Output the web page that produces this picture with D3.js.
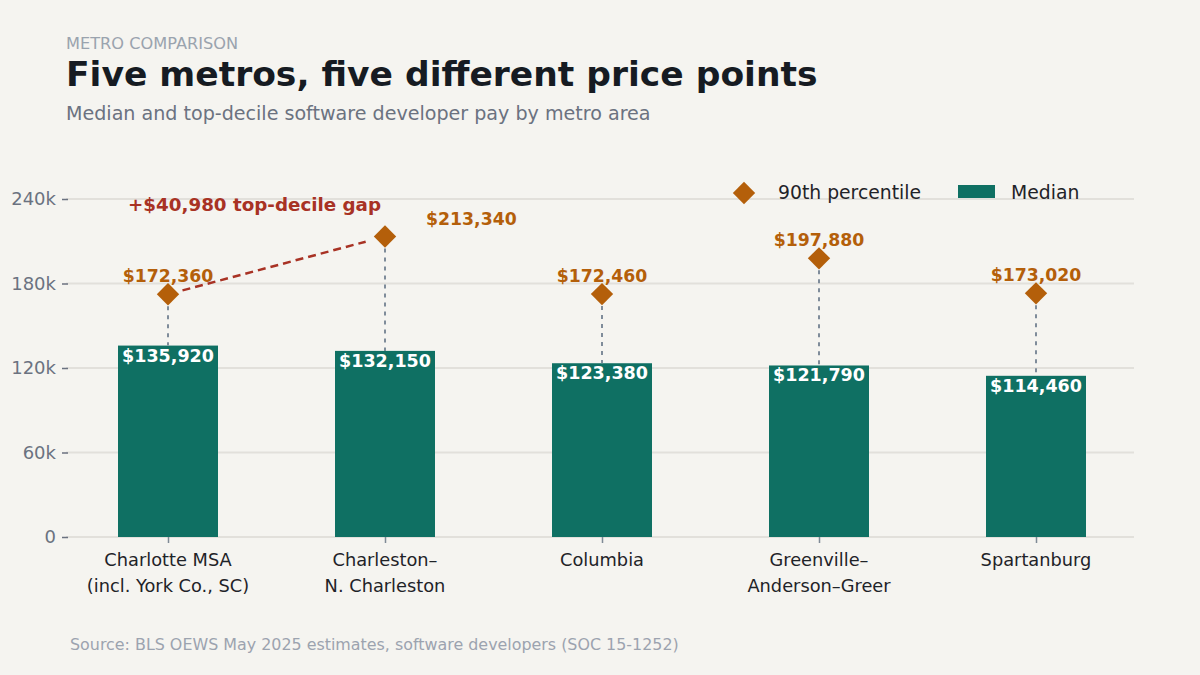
<!DOCTYPE html>
<html>
<head>
<meta charset="utf-8">
<script src="https://cdn.jsdelivr.net/npm/d3@7"></script>
<style>
  body { margin: 0; background: #f5f4f0; }
  svg text { font-family: "DejaVu Sans", sans-serif; }
</style>
</head>
<body>
<div id="container"></div>
<script>
/* DATA */
const metros = ["Charlotte MSA|(incl. York Co., SC)", "Charleston–|N. Charleston", "Columbia", "Greenville–|Anderson–Greer", "Spartanburg"];
const medianPay = [135920, 132150, 123380, 121790, 114460];
const p90Pay = [172360, 213340, 172460, 197880, 173020];
const yTicks = [0, 60000, 120000, 180000, 240000];
const yTickLabels = ["0", "60k", "120k", "180k", "240k"];
const gapLabel = "+$40,980 top-decile gap";

/* CONSTANTS */
const width = 1200, height = 675;
const teal = "#0f7063", orange = "#b45f0a", red = "#a83224";
const fmt = d3.format("$,");

const rows = metros.map((m, i) => ({ metro: m, median: medianPay[i], p90: p90Pay[i] }));

const svg = d3.select("#container").append("svg")
  .attr("width", width)
  .attr("height", height)
  .style("background-color", "#f5f4f0");

/* SCALES */
const xScale = d3.scalePoint()
  .domain(metros)
  .range([168, 1036]);

const yScale = d3.scaleLinear()
  .domain([0, 240000])
  .range([537, 199]);

const barW = 100;

// gridlines
svg.append("g")
  .selectAll("line")
  .data(yTicks)
  .join("line")
  .attr("x1", 66).attr("x2", 1134)
  .attr("y1", d => yScale(d)).attr("y2", d => yScale(d))
  .attr("stroke", "#e2e0db")
  .attr("stroke-width", 2);

// y axis
const yAxis = d3.axisLeft(yScale)
  .tickValues(yTicks)
  .tickFormat((d, i) => yTickLabels[i])
  .tickSize(6)
  .tickPadding(6);
const yG = svg.append("g").attr("transform", "translate(68,0)").call(yAxis);
yG.select(".domain").remove();
yG.selectAll(".tick line").attr("stroke", "#6b7280").attr("stroke-width", 1.5);
yG.selectAll(".tick text").attr("fill", "#6b7280").style("font-size", "18px").style("font-family", "DejaVu Sans");

// x axis
const xAxis = d3.axisBottom(xScale).tickSize(6).tickPadding(8).tickFormat("");
const xG = svg.append("g").attr("transform", "translate(0,537)").call(xAxis);
xG.select(".domain").remove();
xG.selectAll(".tick line").attr("stroke", "#7f8a96").attr("stroke-width", 1.5);

svg.append("g")
  .selectAll("text")
  .data(metros)
  .join("text")
  .attr("x", d => xScale(d))
  .attr("y", 566)
  .attr("text-anchor", "middle")
  .attr("fill", "#1f2328")
  .style("font-size", "17.8px")
  .each(function(d) {
    const parts = d.split("|");
    d3.select(this).selectAll("tspan")
      .data(parts)
      .join("tspan")
      .attr("x", xScale(d))
      .attr("dy", (p, i) => i === 0 ? 0 : 26)
      .text(p => p);
  });

// bars
svg.append("g")
  .selectAll("rect")
  .data(rows)
  .join("rect")
  .attr("x", d => xScale(d.metro) - barW / 2)
  .attr("width", barW)
  .attr("y", d => yScale(d.median))
  .attr("height", d => yScale(0) - yScale(d.median))
  .attr("fill", teal);

// median labels
svg.append("g")
  .selectAll("text")
  .data(rows)
  .join("text")
  .attr("x", d => xScale(d.metro))
  .attr("y", d => yScale(d.median) + 16)
  .attr("text-anchor", "middle")
  .attr("fill", "white")
  .style("font-size", "17.5px")
  .style("font-weight", "bold")
  .text(d => fmt(d.median));

// dotted stems
svg.append("g")
  .selectAll("line")
  .data(rows)
  .join("line")
  .attr("x1", d => xScale(d.metro)).attr("x2", d => xScale(d.metro))
  .attr("y1", d => yScale(d.p90) + 12)
  .attr("y2", d => yScale(d.median))
  .attr("stroke", "#7f8c9a")
  .attr("stroke-width", 2)
  .attr("stroke-dasharray", "4,5");

// annotation line
const a = rows[0], b = rows[1];
const ax = xScale(a.metro), ay = yScale(a.p90), bx = xScale(b.metro), by = yScale(b.p90);
const len = Math.hypot(bx - ax, by - ay);
const ux = (bx - ax) / len, uy = (by - ay) / len;
svg.append("line")
  .attr("x1", ax + ux * 15).attr("y1", ay + uy * 15)
  .attr("x2", bx - ux * 20).attr("y2", by - uy * 20)
  .attr("stroke", red)
  .attr("stroke-width", 2.5)
  .attr("stroke-dasharray", "8,5");

svg.append("text")
  .attr("x", ax - 40)
  .attr("y", 211)
  .attr("fill", red)
  .style("font-size", "18.3px")
  .style("font-weight", "bold")
  .text(gapLabel);

// diamonds
const diamond = d3.symbol().type(d3.symbolSquare).size(250);
svg.append("g")
  .selectAll("path")
  .data(rows)
  .join("path")
  .attr("d", diamond)
  .attr("transform", d => `translate(${xScale(d.metro)},${yScale(d.p90)}) rotate(45)`)
  .attr("fill", orange);

// p90 labels
svg.append("g")
  .selectAll("text")
  .data(rows)
  .join("text")
  .attr("x", (d, i) => i === 1 ? xScale(d.metro) + 41 : xScale(d.metro))
  .attr("y", d => yScale(d.p90) - 12)
  .attr("text-anchor", (d, i) => i === 1 ? "start" : "middle")
  .attr("fill", orange)
  .style("font-size", "17.3px")
  .style("font-weight", "bold")
  .text(d => fmt(d.p90));

// legend
const leg = svg.append("g");
leg.append("path").attr("d", diamond).attr("transform", "translate(744,193) rotate(45)").attr("fill", orange);
leg.append("text").attr("x", 778).attr("y", 199).attr("fill", "#1f2328").style("font-size", "18.8px").text("90th percentile");
leg.append("rect").attr("x", 958).attr("y", 185).attr("width", 37).attr("height", 13).attr("fill", teal);
leg.append("text").attr("x", 1011).attr("y", 199).attr("fill", "#1f2328").style("font-size", "18.8px").text("Median");

// titles
svg.append("text").attr("x", 66).attr("y", 49).attr("fill", "#9aa3ae").style("font-size", "16.2px").text("METRO COMPARISON");
svg.append("text").attr("x", 66).attr("y", 86).attr("fill", "#161b22").style("font-size", "34.5px").style("font-weight", "bold").text("Five metros, five different price points");
svg.append("text").attr("x", 66).attr("y", 120).attr("fill", "#6b7280").style("font-size", "19.1px").text("Median and top-decile software developer pay by metro area");
svg.append("text").attr("x", 70).attr("y", 650).attr("fill", "#9ca3af").style("font-size", "15.9px").text("Source: BLS OEWS May 2025 estimates, software developers (SOC 15-1252)");
</script>
</body>
</html>
